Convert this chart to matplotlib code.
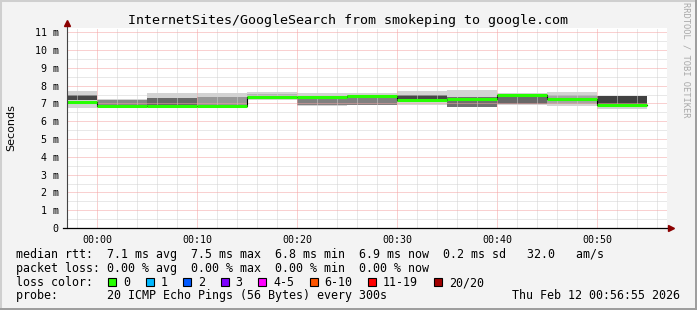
import numpy as np
import matplotlib.pyplot as plt
import matplotlib.patches as mpatches

# smokeping data, 5 minute steps (minutes after 00:00, start of each step)
step_start = [-5, 0, 5, 10, 15, 20, 25, 30, 35, 40, 45, 50]
step_len = 5
median = [7.10, 6.83, 6.84, 6.87, 7.34, 7.34, 7.43, 7.17, 7.22, 7.49, 7.26, 6.93]
smoke_lo = [6.74, 6.74, 6.74, 6.83, 7.21, 6.83, 6.89, 6.93, 6.78, 6.93, 6.83, 6.70]
smoke_hi = [7.71, 7.26, 7.58, 7.58, 7.66, 7.58, 7.58, 7.71, 7.73, 7.58, 7.64, 7.43]
core_lo = [7.17, 6.81, 6.83, 6.91, 7.26, 6.89, 6.93, 7.08, 6.80, 6.98, 6.98, 6.93]
core_hi = [7.49, 7.18, 7.30, 7.34, 7.54, 7.36, 7.45, 7.49, 7.36, 7.49, 7.49, 7.39]
core_density = [0.80, 0.40, 0.60, 0.30, 0.12, 0.45, 0.45, 0.80, 0.55, 0.60, 0.22, 0.85]
loss = [0, 0, 0, 0, 0, 0, 0, 0, 0, 0, 0, 0]

time_ticks = [0, 10, 20, 30, 40, 50]
time_labels = ["00:00", "00:10", "00:20", "00:30", "00:40", "00:50"]
ms_ticks = list(range(0, 12))
ms_labels = ["0"] + ["%d m" % v for v in ms_ticks[1:]]

loss_labels = ["0", "1", "2", "3", "4-5", "6-10", "11-19", "20/20"]
loss_colors = ["#26ff00", "#00b8ff", "#0059ff", "#7e00ff", "#ff00ff", "#ff5500", "#ff0000", "#a10000"]

title = "InternetSites/GoogleSearch from smokeping to google.com"
rtt_line = "median rtt:  7.1 ms avg  7.5 ms max  6.8 ms min  6.9 ms now  0.2 ms sd   32.0   am/s"
loss_line = "packet loss: 0.00 % avg  0.00 % max  0.00 % min  0.00 % now"
probe_line = "probe:       20 ICMP Echo Pings (56 Bytes) every 300s"
stamp = "Thu Feb 12 00:56:55 2026"

W, H = 697, 310
MONO = "DejaVu Sans Mono"


def fx(x):
    return x / W


def fy(y):
    return 1 - y / H


fig = plt.figure(figsize=(W / 100, H / 100), dpi=100)
fig.patch.set_facecolor("#f3f3f3")

# 3d frame
fig.patches.append(mpatches.Rectangle((0, 0), 1, 1, transform=fig.transFigure,
                                      fill=False, edgecolor="#cfcfcf", linewidth=2.2))
fig.patches.append(mpatches.Rectangle((0, 0), 1, 2.5 / H, transform=fig.transFigure,
                                      color="#9e9e9e", linewidth=0))
fig.patches.append(mpatches.Rectangle((1 - 2.5 / W, 0), 2.5 / W, 1, transform=fig.transFigure,
                                      color="#9e9e9e", linewidth=0))

# plot area on whole pixels so the 1px dotted grid stays crisp
left, right, top, bottom = 67, 667, 28, 228
ax = fig.add_axes([fx(left), fy(bottom), (right - left) / W, (bottom - top) / H])
ax.set_facecolor("white")
ax.set_xlim(-3, 57)
ax.set_ylim(0, 200 / 17.8)

# smoke
ax.bar(step_start, np.subtract(smoke_hi, smoke_lo), width=step_len, bottom=smoke_lo,
       align="edge", color="#d3d3d3", linewidth=0, zorder=1)
core_colors = [str(0.78 - 0.62 * d) for d in core_density]
ax.bar(step_start, np.subtract(core_hi, core_lo), width=step_len, bottom=core_lo,
       align="edge", color=core_colors, linewidth=0, zorder=1.1)

# median line
xs = step_start + [step_start[-1] + step_len]
ax.step(xs, median + [median[-1]], where="post", color="black", linewidth=0.8, zorder=3)
ax.hlines(median, step_start, [s + step_len for s in step_start],
          colors=[loss_colors[l] for l in loss], linewidth=2.2, zorder=3.1)

# grid
ax.set_xticks(time_ticks)
ax.set_xticklabels(time_labels, fontfamily=MONO, fontsize=7.2)
ax.set_xticks(np.arange(-2, 57, 2), minor=True)
ax.set_yticks(ms_ticks)
ax.set_yticklabels(ms_labels, fontfamily=MONO, fontsize=7.2)
ax.set_yticks(np.arange(0.5, 11.2, 0.5), minor=True)
ax.grid(which="minor", color="#d2d2d2", linestyle=(0, (1, 1)), linewidth=0.72)
ax.grid(which="major", color="#f5a3a3", linestyle=(0, (1, 1)), linewidth=0.72)
ax.set_axisbelow(False)
ax.tick_params(which="both", length=0)
ax.tick_params(axis="x", pad=5)
ax.tick_params(axis="y", pad=6)
for s in ax.spines.values():
    s.set_visible(False)

# axes with arrows
ax.plot([0, 0], [0, 1.025], transform=ax.transAxes, color="#444444", linewidth=0.8,
        clip_on=False, zorder=4)
ax.plot([-0.007, 1.0], [0, 0], transform=ax.transAxes, color="black", linewidth=0.9,
        clip_on=False, zorder=4)
ax.plot([0], [1.025], transform=ax.transAxes, marker="^", markersize=4, color="#8b0000",
        clip_on=False, zorder=5)
ax.plot([1.007], [0], transform=ax.transAxes, marker=">", markersize=4, color="#8b0000",
        clip_on=False, zorder=5)

fig.text(fx(348.5), fy(24), title, fontfamily=MONO, fontsize=9.6, ha="center", va="baseline")
fig.text(fx(11), fy(128), "Seconds", fontsize=8, rotation=90, ha="center", va="center")
fig.text(fx(686), fy(60), "RRDTOOL / TOBI OETIKER", fontfamily=MONO, fontsize=6.3,
         rotation=-90, ha="center", va="center", color="#a8a8a8")

# legend
fig.text(fx(16), fy(258.3), rtt_line, fontfamily=MONO, fontsize=8.4, va="baseline")
fig.text(fx(16), fy(271.7), loss_line, fontfamily=MONO, fontsize=8.4, va="baseline")
fig.text(fx(16), fy(286), "loss color:", fontfamily=MONO, fontsize=8.4, va="baseline")
fig.text(fx(16), fy(299.3), probe_line, fontfamily=MONO, fontsize=8.4, va="baseline")
fig.text(fx(680), fy(299.3), stamp, fontfamily=MONO, fontsize=8.4, va="baseline", ha="right")

cw = 7.04
x = 108.3
for lab, col in zip(loss_labels, loss_colors):
    fig.patches.append(mpatches.Rectangle((fx(x), fy(285.7)), 8 / W, 8 / H,
                                          transform=fig.transFigure, facecolor=col,
                                          edgecolor="black", linewidth=0.8))
    fig.text(fx(x + 15), fy(286), lab, fontfamily=MONO, fontsize=8.4, va="baseline")
    x = x + 15 + len(lab) * cw + 15.4

fig.savefig("out.png", dpi=100, facecolor=fig.get_facecolor())
